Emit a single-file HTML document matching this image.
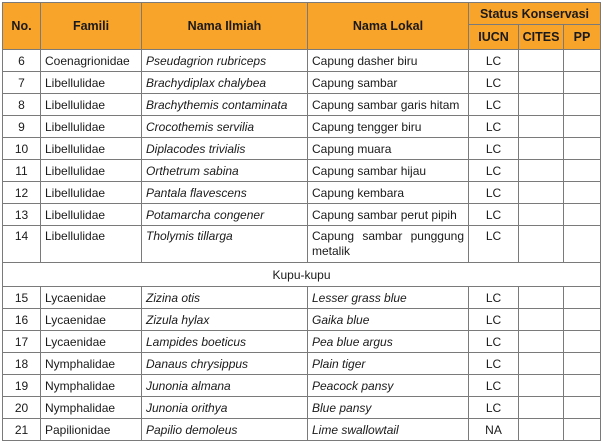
<!DOCTYPE html><html><head><style>
body{margin:0;background:#fff;width:602px;height:444px;overflow:hidden}
table{position:absolute;left:2px;top:2px;border-collapse:collapse;font-family:"Liberation Sans",sans-serif;font-size:12px;color:#1a1a1a;table-layout:fixed}
td,th{border:1px solid #7a7a7a;padding:0 4px;height:21px;white-space:nowrap;overflow:hidden}
th{background:#F8A32A;font-weight:bold;font-size:12.5px;color:#1a1a1a;text-align:center;padding:0}
.c{text-align:center}
i{font-style:italic}
</style></head><body>
<table>
<colgroup><col style="width:38px"><col style="width:101px"><col style="width:166px"><col style="width:161px"><col style="width:50px"><col style="width:45px"><col style="width:37px"></colgroup>
<tr><th rowspan="2" style="height:46px">No.</th><th rowspan="2">Famili</th><th rowspan="2">Nama Ilmiah</th><th rowspan="2">Nama Lokal</th><th colspan="3" style="height:21px">Status Konservasi</th></tr>
<tr><th style="height:24px">IUCN</th><th>CITES</th><th>PP</th></tr>
<tr><td class="c">6</td><td>Coenagrionidae</td><td><i>Pseudagrion rubriceps</i></td><td>Capung dasher biru</td><td class="c">LC</td><td></td><td></td></tr>
<tr><td class="c">7</td><td>Libellulidae</td><td><i>Brachydiplax chalybea</i></td><td>Capung sambar</td><td class="c">LC</td><td></td><td></td></tr>
<tr><td class="c">8</td><td>Libellulidae</td><td><i>Brachythemis contaminata</i></td><td>Capung sambar garis hitam</td><td class="c">LC</td><td></td><td></td></tr>
<tr><td class="c">9</td><td>Libellulidae</td><td><i>Crocothemis servilia</i></td><td>Capung tengger biru</td><td class="c">LC</td><td></td><td></td></tr>
<tr><td class="c">10</td><td>Libellulidae</td><td><i>Diplacodes trivialis</i></td><td>Capung muara</td><td class="c">LC</td><td></td><td></td></tr>
<tr><td class="c">11</td><td>Libellulidae</td><td><i>Orthetrum sabina</i></td><td>Capung sambar hijau</td><td class="c">LC</td><td></td><td></td></tr>
<tr><td class="c">12</td><td>Libellulidae</td><td><i>Pantala flavescens</i></td><td>Capung kembara</td><td class="c">LC</td><td></td><td></td></tr>
<tr><td class="c">13</td><td>Libellulidae</td><td><i>Potamarcha congener</i></td><td>Capung sambar perut pipih</td><td class="c">LC</td><td></td><td></td></tr>
<tr><td class="c" style="vertical-align:top;padding-top:3px;height:33px">14</td><td style="vertical-align:top;padding-top:3px">Libellulidae</td><td style="vertical-align:top;padding-top:3px"><i>Tholymis tillarga</i></td><td style="vertical-align:top;padding-top:3px;white-space:normal;text-align:justify;text-align-last:left;line-height:15px">Capung&nbsp; sambar&nbsp; punggung metalik</td><td class="c" style="vertical-align:top;padding-top:3px">LC</td><td></td><td></td></tr>
<tr><td colspan="7" class="c" style="height:23px">Kupu-kupu</td></tr>
<tr><td class="c">15</td><td>Lycaenidae</td><td><i>Zizina otis</i></td><td><i>Lesser grass blue</i></td><td class="c">LC</td><td></td><td></td></tr>
<tr><td class="c">16</td><td>Lycaenidae</td><td><i>Zizula hylax</i></td><td><i>Gaika blue</i></td><td class="c">LC</td><td></td><td></td></tr>
<tr><td class="c">17</td><td>Lycaenidae</td><td><i>Lampides boeticus</i></td><td><i>Pea blue argus</i></td><td class="c">LC</td><td></td><td></td></tr>
<tr><td class="c">18</td><td>Nymphalidae</td><td><i>Danaus chrysippus</i></td><td><i>Plain tiger</i></td><td class="c">LC</td><td></td><td></td></tr>
<tr><td class="c">19</td><td>Nymphalidae</td><td><i>Junonia almana</i></td><td><i>Peacock pansy</i></td><td class="c">LC</td><td></td><td></td></tr>
<tr><td class="c">20</td><td>Nymphalidae</td><td><i>Junonia orithya</i></td><td><i>Blue pansy</i></td><td class="c">LC</td><td></td><td></td></tr>
<tr><td class="c">21</td><td>Papilionidae</td><td><i>Papilio demoleus</i></td><td><i>Lime swallowtail</i></td><td class="c">NA</td><td></td><td></td></tr>
</table></body></html>
